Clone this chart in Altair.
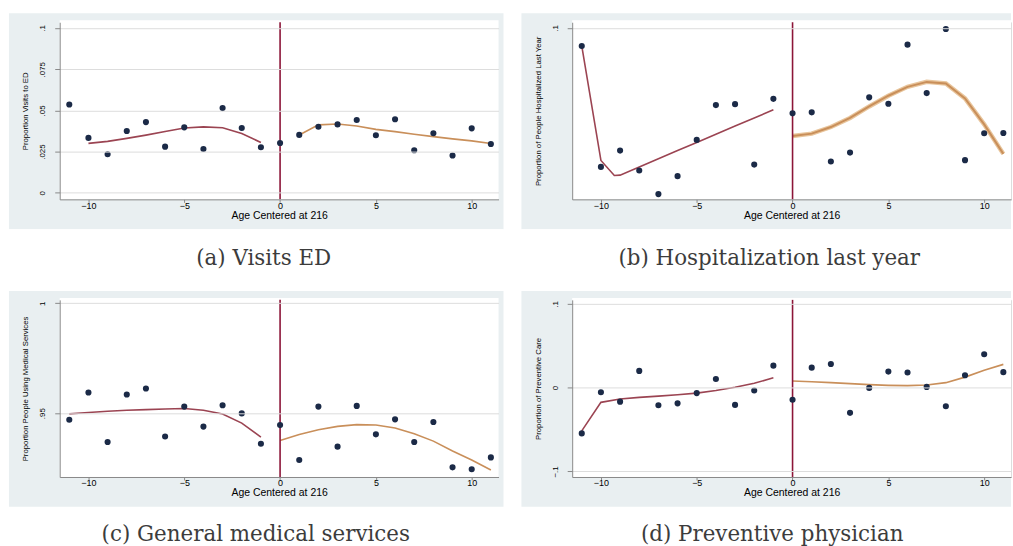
import altair as alt
import pandas as pd

# ---------------------------------------------------------------------------
# Binned means by age (months, centered at 216) and local polynomial fits
# ---------------------------------------------------------------------------
ages = list(range(-11, 12))

# (a) Visits to the emergency department
ed_means = [0.0536, 0.0333, 0.0234, 0.0375, 0.0429, 0.0280, 0.0397, 0.0266,
            0.0514, 0.0393, 0.0276, 0.0302, 0.0351, 0.0401, 0.0415, 0.0442,
            0.0349, 0.0446, 0.0258, 0.0361, 0.0226, 0.0391, 0.0296]
ed_fit_left_x = [-10, -9, -8, -7, -6, -5, -4, -3, -2, -1]
ed_fit_left_y = [0.0300, 0.0312, 0.0330, 0.0350, 0.0372, 0.0393, 0.0400,
                 0.0395, 0.0360, 0.0305]
ed_fit_right_x = [1, 2, 3, 4, 5, 6, 7, 8, 9, 10, 11]
ed_fit_right_y = [0.0351, 0.0412, 0.0417, 0.0405, 0.0385, 0.0371, 0.0355,
                  0.0341, 0.0327, 0.0315, 0.0299]

# (b) Hospitalization last year
hosp_means = [0.0891, 0.0157, 0.0256, 0.0135, -0.0008, 0.0101, 0.0321, 0.0532,
              0.0538, 0.0171, 0.0570, 0.0482, 0.0488, 0.0190, 0.0244, 0.0579,
              0.0540, 0.0899, 0.0605, 0.0994, 0.0198, 0.0361, 0.0363]
hosp_fit_left_x = [-11, -10, -9.3, -9, -8, -7, -6, -5, -4, -3, -2, -1]
hosp_fit_left_y = [0.0891, 0.0196, 0.0105, 0.0107, 0.0157, 0.0206, 0.0256,
                   0.0305, 0.0355, 0.0405, 0.0454, 0.0504]
hosp_fit_right_x = [0, 1, 2, 3, 4, 5, 6, 7, 8, 9, 10, 11]
hosp_fit_right_y = [0.0345, 0.0359, 0.0399, 0.0454, 0.0524, 0.0589, 0.0643,
                    0.0673, 0.0663, 0.0573, 0.0415, 0.0236]

# (c) General medical services
med_means = [0.9470, 0.9594, 0.9369, 0.9585, 0.9612, 0.9394, 0.9530, 0.9439,
             0.9536, 0.9499, 0.9361, 0.9446, 0.9287, 0.9530, 0.9348, 0.9533,
             0.9404, 0.9472, 0.9369, 0.9460, 0.9254, 0.9245, 0.9299]
med_fit_left_x = [-11, -10, -9, -8, -7, -6, -5, -4, -3, -2, -1]
med_fit_left_y = [0.9497, 0.9503, 0.9509, 0.9513, 0.9516, 0.9519, 0.9521,
                  0.9513, 0.9496, 0.9455, 0.9391]
med_fit_right_x = [0, 1, 2, 3, 4, 5, 6, 7, 8, 9, 10, 11]
med_fit_right_y = [0.9376, 0.9403, 0.9425, 0.9440, 0.9448, 0.9446, 0.9433,
                   0.9407, 0.9373, 0.9328, 0.9287, 0.9242]

# (d) Preventive physician visits
prev_means = [-0.0547, -0.0055, -0.0168, 0.0199, -0.0211, -0.0188, -0.0066,
              0.0102, -0.0207, -0.0035, 0.0262, -0.0145, 0.0238, 0.0281,
              -0.0301, -0.0004, 0.0191, 0.0180, 0.0008, -0.0223, 0.0148,
              0.0398, 0.0184]
prev_fit_left_x = [-11, -10, -9, -8, -7, -6, -5, -4, -3, -2, -1]
prev_fit_left_y = [-0.0516, -0.0176, -0.0137, -0.0117, -0.0102, -0.0086,
                   -0.0066, -0.0035, 0.0004, 0.0051, 0.0117]
prev_fit_right_x = [0, 1, 2, 3, 4, 5, 6, 7, 8, 9, 10, 11]
prev_fit_right_y = [0.0078, 0.0070, 0.0059, 0.0047, 0.0035, 0.0027, 0.0023,
                    0.0031, 0.0059, 0.0125, 0.0207, 0.0277]

x_ticks = [-10, -5, 0, 5, 10]

# ---------------------------------------------------------------------------
# Styling
# ---------------------------------------------------------------------------
W, H = 441, 178
REGION = "#e9eff1"
NAVY = "#1b2a47"
MAROON = "#9b4452"
ORANGE = "#c98f5a"
CUTOFF = "#8c1538"
AXIS_GREY = "#555555"
FONT = "Liberation Sans"
SERIF = "DejaVu Serif"

X_SCALE = alt.Scale(domain=[-11.5, 11.4], nice=False, zero=False)
LABEL_EXPR = "replace(replace(format(datum.value, ''), '-0.', '-.'), '0.', '.')"


def box(x0, x1, y0, y1, color):
    """A fixed rectangle in pixel space (graph region / spacing)."""
    return alt.Chart(pd.DataFrame({"k": [0]})).mark_rect(color=color).encode(
        x=alt.value(x0), x2=alt.value(x1), y=alt.value(y0), y2=alt.value(y1)
    )


def panel(means, lx, ly, rx, ry, y_domain, y_ticks, y_title, caption,
          cap_x, cap_y, right_pad, bottom_edge, right_thick=False):
    y_scale = alt.Scale(domain=y_domain, nice=False, zero=False)
    pts = pd.DataFrame({"age": ages, "value": means})
    left = pd.DataFrame({"age": lx, "fit": ly})
    right = pd.DataFrame({"age": rx, "fit": ry})

    layers = [
        box(-51, W + right_pad, -9, H + 30, REGION),
        box(0, W, -2, H, "white"),
    ]
    if bottom_edge:
        layers.append(box(-51, W + right_pad, H + 30, bottom_edge, "white"))

    x_axis = alt.Axis(values=x_ticks, format="d", title="Age Centered at 216",
                      zindex=2, grid=False, tickSize=3, labelFontSize=9,
                      titleFontSize=10.5, titleFontWeight="normal",
                      labelPadding=-1, titlePadding=0, labelFlush=False)
    y_axis = alt.Axis(values=y_ticks, title=y_title, labelExpr=LABEL_EXPR,
                      zindex=2, grid=True, tickSize=5, labelFontSize=8,
                      titleFontSize=7.8, titleFontWeight="normal",
                      labelAngle=270, labelAlign="center",
                      labelBaseline="bottom", labelPadding=8, titlePadding=9)

    scatter = alt.Chart(pts).mark_point(
        filled=True, shape="circle", size=38, color=NAVY, opacity=1
    ).encode(
        x=alt.X("age:Q", scale=X_SCALE, axis=x_axis),
        y=alt.Y("value:Q", scale=y_scale, axis=y_axis),
    )

    left_line = alt.Chart(left).mark_line(color=MAROON, strokeWidth=1.6).encode(
        x=alt.X("age:Q", scale=X_SCALE), y=alt.Y("fit:Q", scale=y_scale)
    )
    right_layers = []
    if right_thick:
        right_layers.append(
            alt.Chart(right).mark_line(color="#e8c59c", strokeWidth=4.5).encode(
                x=alt.X("age:Q", scale=X_SCALE), y=alt.Y("fit:Q", scale=y_scale)
            )
        )
    right_layers.append(
        alt.Chart(right).mark_line(color=ORANGE, strokeWidth=2 if right_thick else 1.6).encode(
            x=alt.X("age:Q", scale=X_SCALE), y=alt.Y("fit:Q", scale=y_scale)
        )
    )

    cutoff = alt.Chart(pd.DataFrame({"age": [0]})).mark_rule(
        color=CUTOFF, strokeWidth=1.6
    ).encode(x=alt.X("age:Q", scale=X_SCALE))

    label = alt.Chart(pd.DataFrame({"t": [caption]})).mark_text(
        font=SERIF, fontSize=21.5, color="#3c3c3c", align="center", baseline="middle"
    ).encode(x=alt.value(cap_x), y=alt.value(cap_y), text="t:N")

    layers += [left_line] + right_layers + [cutoff, scatter, label]
    return alt.layer(*layers).properties(width=W, height=H)


pa = panel(ed_means, ed_fit_left_x, ed_fit_left_y, ed_fit_right_x, ed_fit_right_y,
           [-0.004, 0.1035], [0, 0.025, 0.05, 0.075, 0.1],
           "Proportion Visits to ED", "(a) Visits ED", 205, 238, 5, 268)
pb = panel(hosp_means, hosp_fit_left_x, hosp_fit_left_y, hosp_fit_right_x,
           hosp_fit_right_y, [-0.004, 0.1035], [0.1],
           "Proportion of People Hospitalized Last Year",
           "(b) Hospitalization last year", 198, 238, 0, 268, right_thick=True)
pc = panel(med_means, med_fit_left_x, med_fit_left_y, med_fit_right_x,
           med_fit_right_y, [0.9210, 1.0015], [0.95, 1.0],
           "Proportion People Using Medical Services",
           "(c) General medical services", 197, 236, 5, 0)
pd_ = panel(prev_means, prev_fit_left_x, prev_fit_left_y, prev_fit_right_x,
            prev_fit_right_y, [-0.1067, 0.1047], [-0.1, 0, 0.1],
            "Proportion of Preventive Care", "(d) Preventive physician",
            201, 236, 0, 0)

top = alt.hconcat(pa, pb, spacing=16)
bottom = alt.hconcat(pc, pd_, spacing=16)

chart = alt.vconcat(top, bottom, spacing=0).properties(
    padding={"left": 8, "top": 11, "right": 0, "bottom": 0}
).configure_view(stroke=None).configure_axis(
    domainColor=AXIS_GREY,
    tickColor=AXIS_GREY,
    labelColor="#444444",
    titleColor="#444444",
    labelFont=FONT,
    titleFont=FONT,
    gridColor="#e6ecee",
    gridWidth=1,
).configure(background="white")

chart.save("out.html", embed_options={"renderer": "svg", "actions": False})
